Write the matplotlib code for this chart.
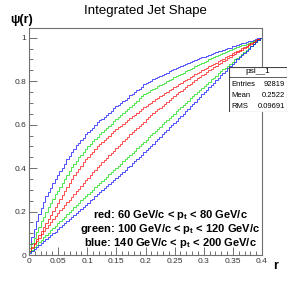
import numpy as np
import matplotlib
matplotlib.use("Agg")
import matplotlib.pyplot as plt
from matplotlib.patches import Rectangle
from matplotlib.ticker import MultipleLocator

plt.rcParams['font.family'] = ['Liberation Sans', 'DejaVu Sans']
plt.rcParams['mathtext.fontset'] = 'custom'
plt.rcParams['mathtext.rm'] = 'Liberation Sans:bold'
plt.rcParams['mathtext.it'] = 'Liberation Sans:bold'

# integrated jet shape psi(r), 100 bins of 0.004 in r (value at upper bin edge)
r_lo, r_hi, n_bins = 0.0, 0.4, 100

blue_hi = [0.05, 0.085, 0.12, 0.155, 0.19, 0.215, 0.245, 0.27, 0.29, 0.31,
           0.33, 0.35, 0.37, 0.385, 0.40, 0.42, 0.44, 0.455, 0.475, 0.49,
           0.505, 0.515, 0.53, 0.54, 0.555, 0.565, 0.575, 0.585, 0.60, 0.61,
           0.62, 0.625, 0.635, 0.645, 0.655, 0.665, 0.675, 0.685, 0.69, 0.70,
           0.71, 0.715, 0.725, 0.735, 0.74, 0.75, 0.76, 0.765, 0.775, 0.785,
           0.79, 0.795, 0.80, 0.81, 0.815, 0.82, 0.825, 0.83, 0.835, 0.84,
           0.845, 0.85, 0.855, 0.86, 0.865, 0.87, 0.875, 0.88, 0.885, 0.89,
           0.893, 0.897, 0.90, 0.905, 0.91, 0.913, 0.917, 0.92, 0.925, 0.93,
           0.933, 0.937, 0.94, 0.945, 0.948, 0.952, 0.955, 0.96, 0.963, 0.967,
           0.97, 0.974, 0.977, 0.98, 0.984, 0.987, 0.99, 0.993, 0.997, 1.0]
green_hi = [0.03, 0.055, 0.08, 0.105, 0.13, 0.155, 0.175, 0.20, 0.22, 0.24,
            0.26, 0.28, 0.295, 0.315, 0.33, 0.35, 0.37, 0.385, 0.405, 0.42,
            0.435, 0.45, 0.46, 0.475, 0.49, 0.50, 0.51, 0.525, 0.535, 0.545,
            0.555, 0.565, 0.575, 0.585, 0.595, 0.605, 0.615, 0.625, 0.635, 0.645,
            0.654, 0.664, 0.673, 0.683, 0.692, 0.702, 0.711, 0.721, 0.73, 0.74,
            0.746, 0.752, 0.758, 0.764, 0.77, 0.776, 0.782, 0.788, 0.794, 0.80,
            0.806, 0.812, 0.818, 0.824, 0.83, 0.835, 0.84, 0.846, 0.852, 0.857,
            0.863, 0.868, 0.874, 0.88, 0.885, 0.89, 0.895, 0.90, 0.905, 0.91,
            0.914, 0.919, 0.924, 0.929, 0.934, 0.939, 0.943, 0.948, 0.952, 0.956,
            0.96, 0.965, 0.969, 0.973, 0.977, 0.982, 0.986, 0.99, 0.995, 1.0]
red_hi = [0.018, 0.036, 0.054, 0.072, 0.09, 0.109, 0.128, 0.147, 0.166, 0.185,
          0.203, 0.221, 0.239, 0.257, 0.275, 0.294, 0.313, 0.332, 0.351, 0.37,
          0.384, 0.398, 0.412, 0.426, 0.44, 0.452, 0.464, 0.476, 0.488, 0.50,
          0.51, 0.52, 0.53, 0.54, 0.55, 0.56, 0.57, 0.579, 0.588, 0.596,
          0.604, 0.613, 0.621, 0.63, 0.638, 0.646, 0.655, 0.663, 0.672, 0.68,
          0.687, 0.694, 0.702, 0.709, 0.716, 0.723, 0.73, 0.738, 0.745, 0.752,
          0.759, 0.766, 0.773, 0.78, 0.786, 0.793, 0.799, 0.806, 0.812, 0.818,
          0.825, 0.831, 0.838, 0.844, 0.85, 0.856, 0.862, 0.868, 0.874, 0.88,
          0.886, 0.892, 0.898, 0.904, 0.91, 0.916, 0.922, 0.928, 0.934, 0.94,
          0.946, 0.952, 0.958, 0.964, 0.97, 0.976, 0.982, 0.988, 0.994, 1.0]
red_lo = [0.017, 0.033, 0.049, 0.065, 0.08, 0.095, 0.11, 0.124, 0.138, 0.152,
          0.166, 0.179, 0.192, 0.205, 0.218, 0.23, 0.243, 0.255, 0.268, 0.28,
          0.293, 0.305, 0.318, 0.33, 0.343, 0.355, 0.368, 0.38, 0.392, 0.403,
          0.415, 0.426, 0.437, 0.448, 0.459, 0.47, 0.481, 0.492, 0.503, 0.513,
          0.524, 0.534, 0.545, 0.555, 0.565, 0.575, 0.585, 0.595, 0.605, 0.614,
          0.624, 0.633, 0.643, 0.652, 0.661, 0.67, 0.679, 0.688, 0.697, 0.706,
          0.715, 0.723, 0.732, 0.74, 0.749, 0.757, 0.765, 0.773, 0.781, 0.789,
          0.797, 0.805, 0.813, 0.82, 0.828, 0.835, 0.843, 0.85, 0.857, 0.864,
          0.871, 0.878, 0.885, 0.892, 0.899, 0.906, 0.913, 0.92, 0.927, 0.933,
          0.94, 0.946, 0.953, 0.959, 0.966, 0.973, 0.98, 0.986, 0.993, 1.0]
green_lo = [0.012, 0.024, 0.036, 0.047, 0.058, 0.07, 0.081, 0.092, 0.103, 0.114,
            0.125, 0.135, 0.146, 0.156, 0.167, 0.177, 0.188, 0.198, 0.209, 0.219,
            0.23, 0.24, 0.251, 0.261, 0.271, 0.281, 0.291, 0.301, 0.311, 0.321,
            0.331, 0.341, 0.351, 0.361, 0.371, 0.381, 0.391, 0.401, 0.411, 0.421,
            0.431, 0.441, 0.451, 0.461, 0.471, 0.481, 0.491, 0.501, 0.511, 0.521,
            0.531, 0.541, 0.551, 0.561, 0.571, 0.581, 0.591, 0.601, 0.611, 0.621,
            0.631, 0.641, 0.651, 0.661, 0.671, 0.681, 0.691, 0.701, 0.711, 0.721,
            0.731, 0.741, 0.751, 0.76, 0.77, 0.779, 0.789, 0.798, 0.808, 0.817,
            0.826, 0.836, 0.845, 0.854, 0.863, 0.872, 0.881, 0.89, 0.90, 0.909,
            0.918, 0.927, 0.936, 0.945, 0.954, 0.963, 0.972, 0.981, 0.991, 1.0]
blue_lo = [0.009, 0.018, 0.027, 0.036, 0.045, 0.054, 0.063, 0.072, 0.081, 0.09,
           0.099, 0.108, 0.118, 0.127, 0.137, 0.146, 0.156, 0.165, 0.175, 0.184,
           0.194, 0.203, 0.213, 0.222, 0.232, 0.241, 0.251, 0.26, 0.27, 0.279,
           0.289, 0.298, 0.308, 0.317, 0.327, 0.336, 0.346, 0.355, 0.365, 0.374,
           0.384, 0.393, 0.403, 0.412, 0.422, 0.432, 0.442, 0.452, 0.462, 0.472,
           0.482, 0.492, 0.503, 0.513, 0.524, 0.534, 0.545, 0.555, 0.566, 0.576,
           0.587, 0.597, 0.608, 0.618, 0.629, 0.64, 0.651, 0.662, 0.673, 0.684,
           0.695, 0.706, 0.717, 0.728, 0.739, 0.75, 0.761, 0.772, 0.783, 0.794,
           0.805, 0.816, 0.827, 0.838, 0.849, 0.86, 0.87, 0.88, 0.89, 0.90,
           0.91, 0.92, 0.93, 0.94, 0.95, 0.96, 0.97, 0.98, 0.99, 1.0]

curves = [(blue_hi, '#0000ff'), (green_hi, '#00dd00'), (red_hi, '#ff0000'),
          (red_lo, '#ff0000'), (green_lo, '#00dd00'), (blue_lo, '#0000ff')]

legend_lines = [r"red: 60 GeV/c < p$_\mathrm{t}$ < 80 GeV/c",
                r"green: 100 GeV/c < p$_\mathrm{t}$ < 120 GeV/c",
                r"blue: 140 GeV/c < p$_\mathrm{t}$ < 200 GeV/c"]

stats_name = "psi__1"
stats_rows = [("Entries", "92819"), ("Mean", "0.2522"), ("RMS", "0.09691")]

W, H = 291, 284
fig = plt.figure(figsize=(W / 100, H / 100), dpi=100)
ax = fig.add_axes([29 / W, 1 - 255 / H, 233 / W, 227 / H])

edges = np.linspace(r_lo, r_hi, n_bins + 1)
for vals, col in curves:
    ax.stairs(vals, edges, baseline=None, color=col, lw=0.7, alpha=0.7)

ax.set_xlim(0, 0.4)
ax.set_ylim(0, 1.045)
ax.xaxis.set_minor_locator(MultipleLocator(0.01))
ax.yaxis.set_minor_locator(MultipleLocator(0.05))
ax.set_xticks(np.arange(0, 0.401, 0.05))
ax.set_xticklabels(["0", "0.05", "0.1", "0.15", "0.2", "0.25", "0.3", "0.35", "0.4"])
ax.set_yticks(np.arange(0, 1.01, 0.2))
ax.set_yticklabels(["0", "0.2", "0.4", "0.6", "0.8", "1"])
ax.tick_params(which='both', direction='in', colors='#707070', labelcolor='#333333',
               labelsize=6, width=0.7, top=False, right=False)
ax.tick_params(which='major', length=6, pad=2)
ax.tick_params(which='minor', length=3)
for s in ax.spines.values():
    s.set_color('#707070')
    s.set_linewidth(0.8)

fig.text(145 / W, 1 - 11 / H, "Integrated Jet Shape", ha='center', va='center', fontsize=9.5)
fig.text(22 / W, 1 - 20 / H, "ψ(r)", ha='center', va='center', fontsize=9, fontweight='bold')
fig.text(276 / W, 1 - 266 / H, "r", ha='center', va='center', fontsize=9, fontweight='bold')

for i, line in enumerate(legend_lines):
    fig.text(170 / W, 1 - (215 + 14 * i) / H, line, ha='center', va='center',
             fontsize=8, fontweight='bold')

# stats box
sb = fig.add_axes([229 / W, 1 - 112 / H, 58 / W, 45 / H])
sb.set_xlim(0, 1)
sb.set_ylim(0, 1)
sb.axis('off')
sb.add_patch(Rectangle((0, 0), 1, 1, facecolor='white', edgecolor='#444444', lw=0.8))
sb.plot([0, 1], [0.78, 0.78], color='#444444', lw=0.6)
sb.text(0.5, 0.89, stats_name, ha='center', va='center', fontsize=6)
for i, (k, v) in enumerate(stats_rows):
    y = 0.62 - 0.245 * i
    sb.text(0.04, y, k, ha='left', va='center', fontsize=5.5)
    sb.text(0.96, y, v, ha='right', va='center', fontsize=5.5)

fig.savefig("out.png", dpi=100)
